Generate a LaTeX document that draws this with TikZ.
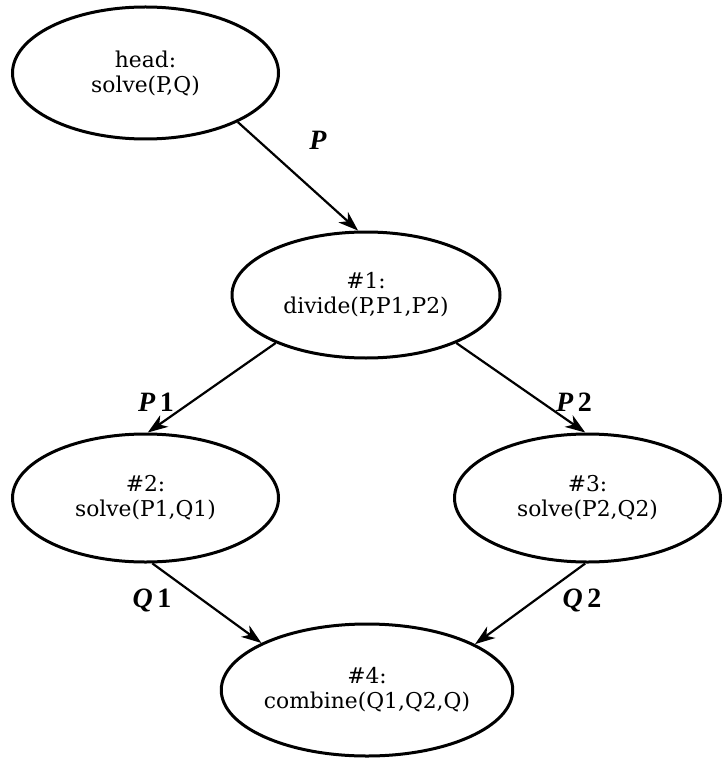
\documentclass[tikz,border=0pt]{standalone}
\usepackage{fontspec}
\setmainfont{DejaVu Serif}
\newfontfamily\lblfont{Liberation Serif}
\usetikzlibrary{shapes.geometric,arrows.meta}
\begin{document}
\begin{tikzpicture}[x=0.5pt,y=-0.5pt,
  state/.style={ellipse,draw,line width=1.5pt,inner sep=0pt,align=center,
    font=\fontsize{10.9}{12.5}\selectfont},
  flow/.style={-{Stealth[length=10pt,width=7pt,inset=3pt]},line width=1.1pt},
  lbl/.style={inner sep=0pt,font=\lblfont\fontsize{14}{16}\selectfont\bfseries\itshape}]
\useasboundingbox[fill=white] (0,0) rectangle (723,759);
\node[state,minimum width=133pt,minimum height=66pt] (head) at (145.5,73) {head:\\solve(P,Q)};
\node[state,minimum width=134pt,minimum height=63pt] (n1) at (366,295) {\#1:\\divide(P,P1,P2)};
\node[state,minimum width=133pt,minimum height=64pt] (n2) at (145.5,498) {\#2:\\solve(P1,Q1)};
\node[state,minimum width=133pt,minimum height=64pt] (n3) at (587.5,498) {\#3:\\solve(P2,Q2)};
\node[state,minimum width=145pt,minimum height=66pt] (n4) at (367,690) {\#4:\\combine(Q1,Q2,Q)};
\draw[flow] (head.-28) -- (n1.97);
\draw[flow] (n1.208) -- (n2.88);
\draw[flow] (n1.332) -- (n3.92);
\draw[flow] (n2.276) -- (n4.156.6);
\draw[flow] (n3.268) -- (n4.23.6);
\node[lbl] (lp) at (318,140) {P};
\node[lbl] (lp1) at (156,402) {P\,{\upshape 1}};
\node[lbl] (lp2) at (574,402) {P\,{\upshape 2}};
\node[lbl] (lq1) at (152,600) {Q\,{\upshape 1}};
\node[lbl] (lq2) at (582,600) {Q\,{\upshape 2}};
\end{tikzpicture}
\end{document}
